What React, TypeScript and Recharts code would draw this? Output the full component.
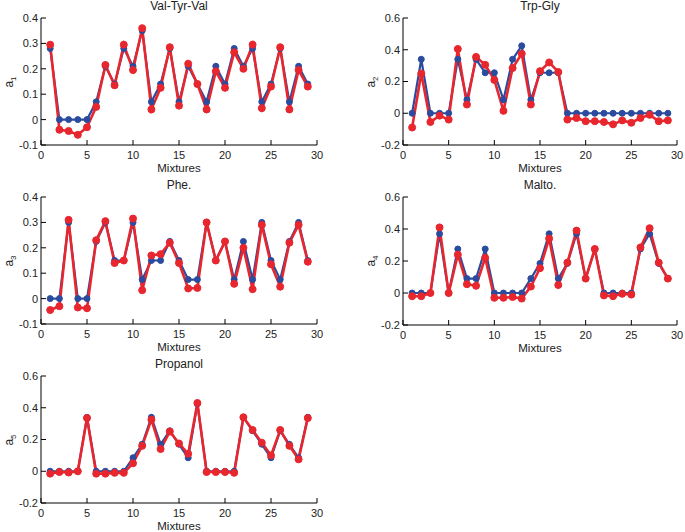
import React from 'react'
import { LineChart, Line, XAxis, YAxis } from 'recharts'

// Mixture index (x axis)
const mixtures = [1, 2, 3, 4, 5, 6, 7, 8, 9, 10, 11, 12, 13, 14, 15, 16, 17, 18, 19, 20, 21, 22, 23, 24, 25, 26, 27, 28, 29]
const xTicks = [0, 5, 10, 15, 20, 25, 30]
const yTicksSmall = [-0.1, 0, 0.1, 0.2, 0.3, 0.4]
const yTicksLarge = [-0.2, 0, 0.2, 0.4, 0.6]

// blue = actual, red = predicted
const actualA1 = [0.28, 0, 0, 0, 0, 0.07, 0.21, 0.14, 0.28, 0.21, 0.35, 0.07, 0.14, 0.28, 0.07, 0.21, 0.14, 0.07, 0.21, 0.14, 0.28, 0.21, 0.28, 0.07, 0.14, 0.28, 0.07, 0.21, 0.14]
const predictedA1 = [0.295, -0.04, -0.045, -0.06, -0.03, 0.05, 0.215, 0.135, 0.295, 0.195, 0.36, 0.04, 0.125, 0.285, 0.055, 0.22, 0.14, 0.04, 0.19, 0.125, 0.265, 0.2, 0.295, 0.045, 0.13, 0.285, 0.04, 0.195, 0.13]

const actualA2 = [0, 0.34, 0, 0, 0, 0.34, 0.085, 0.34, 0.255, 0.255, 0.085, 0.34, 0.425, 0.085, 0.255, 0.255, 0.255, 0, 0, 0, 0, 0, 0, 0, 0, 0, 0, 0, 0]
const predictedA2 = [-0.09, 0.25, -0.055, -0.015, -0.04, 0.405, 0.055, 0.355, 0.305, 0.21, 0.015, 0.285, 0.375, 0.055, 0.265, 0.32, 0.26, -0.04, -0.03, -0.05, -0.05, -0.055, -0.07, -0.045, -0.06, -0.03, -0.01, -0.05, -0.045]

const actualA3 = [0, 0, 0.3, 0, 0, 0.225, 0.3, 0.15, 0.15, 0.3, 0.075, 0.15, 0.15, 0.225, 0.15, 0.075, 0.075, 0.3, 0.15, 0.225, 0.075, 0.225, 0.075, 0.3, 0.15, 0.075, 0.225, 0.3, 0.15]
const predictedA3 = [-0.045, -0.03, 0.31, -0.035, -0.038, 0.23, 0.305, 0.14, 0.15, 0.315, 0.033, 0.17, 0.175, 0.22, 0.14, 0.04, 0.042, 0.3, 0.15, 0.225, 0.058, 0.2, 0.037, 0.29, 0.135, 0.047, 0.22, 0.29, 0.145]

const actualA4 = [0, 0, 0, 0.37, 0, 0.275, 0.09, 0.09, 0.275, 0, 0, 0, 0, 0.09, 0.185, 0.37, 0.09, 0.185, 0.37, 0.09, 0.275, 0, 0, 0, 0, 0.275, 0.37, 0.185, 0.09]
const predictedA4 = [-0.02, -0.02, 0, 0.41, 0, 0.24, 0.055, 0.045, 0.22, -0.03, -0.03, -0.025, -0.035, 0.04, 0.155, 0.34, 0.05, 0.19, 0.39, 0.09, 0.275, -0.015, -0.02, -0.005, -0.01, 0.285, 0.405, 0.19, 0.09]

const actualA5 = [0, 0, 0, 0, 0.34, 0, 0, 0, 0, 0.085, 0.17, 0.34, 0.17, 0.255, 0.17, 0.085, 0.425, 0, 0, 0, 0, 0.34, 0.255, 0.17, 0.085, 0.255, 0.17, 0.085, 0.34]
const predictedA5 = [-0.015, -0.005, -0.008, 0, 0.335, -0.015, -0.015, -0.01, -0.01, 0.05, 0.16, 0.325, 0.14, 0.25, 0.175, 0.11, 0.43, -0.005, -0.005, -0.005, -0.01, 0.34, 0.26, 0.18, 0.1, 0.26, 0.16, 0.075, 0.335]

const BLUE = '#2b4c9e'
const RED = '#e8262e'
const FONT = '"Liberation Sans", Arial, sans-serif'
const TEXT = '#222'

const Y_AXIS_W = 41
const PAD_TOP = 18
const X_AXIS_H = 40

type PanelProps = {
  title: string
  sub: string
  left: number
  top: number
  plotW: number
  plotH: number
  actual: number[]
  predicted: number[]
  yTicks: number[]
}

const fmt = (v: number) => (Math.abs(v) < 1e-9 ? '0' : String(Number(v.toFixed(1))))

function Panel({ title, sub, left, top, plotW, plotH, actual, predicted, yTicks }: PanelProps) {
  const data = mixtures.map((x, i) => ({ x, actual: actual[i], predicted: predicted[i] }))
  const width = Y_AXIS_W + plotW + 10
  const height = PAD_TOP + plotH + X_AXIS_H
  const yDomain = [yTicks[0], yTicks[yTicks.length - 1]]
  const tickStyle = { fontSize: 11, fill: TEXT, fontFamily: FONT }

  return (
    <div style={{ position: 'absolute', left: left - Y_AXIS_W, top: top - PAD_TOP, width, height }}>
      <LineChart width={width} height={height} data={data} margin={{ top: PAD_TOP, right: 10, bottom: 0, left: 0 }}>
        <XAxis
          xAxisId="bottom"
          dataKey="x"
          type="number"
          domain={[0, 30]}
          ticks={xTicks}
          height={X_AXIS_H}
          tickSize={-5}
          tickMargin={11}
          tick={tickStyle}
          stroke="#000"
          interval={0}
        />
        <XAxis
          xAxisId="top"
          orientation="top"
          dataKey="x"
          type="number"
          domain={[0, 30]}
          ticks={xTicks}
          height={0}
          tickSize={-5}
          tickFormatter={() => ''}
          stroke="#000"
          interval={0}
        />
        <YAxis
          yAxisId="left"
          type="number"
          domain={yDomain}
          ticks={yTicks}
          width={Y_AXIS_W}
          tickSize={-5}
          tickMargin={8}
          tick={tickStyle}
          tickFormatter={fmt}
          stroke="#000"
          interval={0}
        />
        <YAxis
          yAxisId="right"
          orientation="right"
          type="number"
          domain={yDomain}
          ticks={yTicks}
          width={0}
          tickSize={-5}
          tickFormatter={() => ''}
          stroke="#000"
          interval={0}
        />
        <Line
          xAxisId="bottom"
          yAxisId="left"
          type="linear"
          dataKey="actual"
          stroke={BLUE}
          strokeWidth={2.2}
          dot={{ r: 3, fill: BLUE, stroke: BLUE, strokeWidth: 1 }}
          isAnimationActive={false}
        />
        <Line
          xAxisId="top"
          yAxisId="right"
          type="linear"
          dataKey="predicted"
          stroke={RED}
          strokeWidth={2.6}
          dot={{ r: 3.5, fill: RED, stroke: RED, strokeWidth: 1 }}
          isAnimationActive={false}
        />
      </LineChart>
      <div
        style={{
          position: 'absolute',
          left: Y_AXIS_W,
          width: plotW,
          top: PAD_TOP - 19,
          textAlign: 'center',
          fontSize: 12,
          fontFamily: FONT,
          color: TEXT,
          lineHeight: '14px',
        }}
      >
        {title}
      </div>
      <div
        style={{
          position: 'absolute',
          left: Y_AXIS_W,
          width: plotW,
          top: PAD_TOP + plotH + 16,
          textAlign: 'center',
          fontSize: 11.5,
          fontFamily: FONT,
          color: TEXT,
          lineHeight: '14px',
        }}
      >
        Mixtures
      </div>
      <div
        style={{
          position: 'absolute',
          left: Y_AXIS_W - 32 - 20,
          top: PAD_TOP + plotH / 2 - 8,
          width: 40,
          height: 16,
          textAlign: 'center',
          transform: 'rotate(-90deg)',
          fontSize: 12,
          fontFamily: FONT,
          color: TEXT,
          lineHeight: '16px',
        }}
      >
        a<sub style={{ fontSize: 8 }}>{sub}</sub>
      </div>
    </div>
  )
}

export default function App() {
  return (
    <div style={{ position: 'absolute', left: 0, top: 0, width: 685, height: 532, background: '#fff', overflow: 'hidden' }}>
      <Panel title="Val-Tyr-Val" sub="1" left={41} top={18} plotW={276} plotH={127} actual={actualA1} predicted={predictedA1} yTicks={yTicksSmall} />
      <Panel title="Trp-Gly" sub="2" left={403} top={18} plotW={274} plotH={127} actual={actualA2} predicted={predictedA2} yTicks={yTicksLarge} />
      <Panel title="Phe." sub="3" left={41} top={197} plotW={276} plotH={127} actual={actualA3} predicted={predictedA3} yTicks={yTicksSmall} />
      <Panel title="Malto." sub="4" left={403} top={197} plotW={274} plotH={128} actual={actualA4} predicted={predictedA4} yTicks={yTicksLarge} />
      <Panel title="Propanol" sub="5" left={41} top={376} plotW={276} plotH={127} actual={actualA5} predicted={predictedA5} yTicks={yTicksLarge} />
    </div>
  )
}
